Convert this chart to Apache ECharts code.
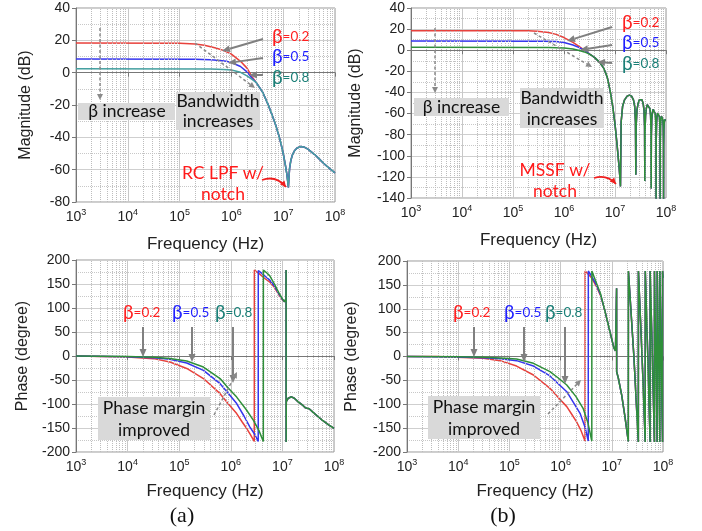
<!DOCTYPE html>
<html><head><meta charset="utf-8">
<script src="https://cdn.jsdelivr.net/npm/echarts@6/dist/echarts.min.js"></script>
<style>html,body{margin:0;padding:0;background:#fff}#c{width:702px;height:531px}</style>
</head><body><div id="c"></div>
<script>
// ---------- DATA (frequency Hz, value) ----------
const magA_red  = [[1e3,18.3],[1e5,18.2],[2e5,17.7],[3e5,17.0],[5e5,15.3],[7e5,13.8],[1e6,11.5],[1.5e6,7.0],[2e6,2.8],[2.5e6,-2.5],[3e6,-6]];
const magA_blue = [[1e3,8.4],[2e5,8.3],[4e5,8.0],[6e5,7.5],[8e5,7.0],[1e6,6.3],[1.5e6,3.8],[2e6,0.5],[2.5e6,-3.5],[3e6,-6]];
const magA_teal = [[1e3,2.4],[4e5,2.3],[7e5,2.0],[1e6,1.6],[1.5e6,0.2],[2e6,-2],[2.5e6,-4.2],[3e6,-6]];
const magA_tail = [[4e6,-12],[5e6,-19],[6e6,-25.5],[7e6,-31.5],[8e6,-37.5],[9e6,-43.5],[1e7,-50],[1.1e7,-57],[1.18e7,-63],[1.23e7,-68],[1.26e7,-71],[1.29e7,-65],[1.33e7,-59],[1.4e7,-54.5],[1.5e7,-51],[1.65e7,-48.3],[1.85e7,-46.6],[2.2e7,-45.7],[2.6e7,-46.2],[3e7,-47.3],[4e7,-50.5],[5e7,-53.5],[6e7,-56],[8e7,-59.5],[1e8,-62]];

const magB_red   = [[1e3,18.5],[2e5,18.4],[3e5,18.0],[5e5,16.8],[7e5,15.0],[1e6,12.0],[1.5e6,7.5],[2e6,3.5],[2.5e6,0.2],[3e6,-2.8]];
const magB_blue  = [[1e3,8.7],[4e5,8.6],[7e5,8.2],[1e6,7.3],[1.5e6,5],[2e6,2.5],[2.5e6,0],[3e6,-2.8]];
const magB_green = [[1e3,2.7],[5e5,2.6],[1e6,2.2],[1.5e6,1.2],[2e6,-0.3],[2.5e6,-1.6],[3e6,-3.2]];
const magB_tail  = [[3.5e6,-5],[4e6,-7],[5e6,-11.5],[6e6,-17],[7e6,-25],[8e6,-38],[9e6,-53],[1e7,-70],[1.1e7,-90],[1.2e7,-110],[1.25e7,-121],[1.28e7,-129],
  [1.32e7,-68],[1.41e7,-53],[1.54e7,-47],[1.73e7,-43.5],[1.92e7,-42.5],[2.11e7,-43.5],[2.3e7,-47],[2.43e7,-53],[2.52e7,-68],[2.56e7,-118],
  [2.6e7,-72],[2.69e7,-57],[2.82e7,-51],[3.01e7,-47],[3.2e7,-46],[3.39e7,-47],[3.58e7,-51],[3.71e7,-57],[3.8e7,-72],[3.84e7,-124],
  [3.88e7,-77],[3.97e7,-62],[4.1e7,-55.5],[4.29e7,-51.5],[4.48e7,-50.5],[4.67e7,-51.5],[4.86e7,-55.5],[4.99e7,-62],[5.08e7,-77],[5.12e7,-131],
  [5.16e7,-81],[5.25e7,-66],[5.38e7,-60],[5.57e7,-56],[5.76e7,-55],[5.95e7,-56],[6.14e7,-60],[6.27e7,-66],[6.36e7,-81],[6.4e7,-145],
  [6.44e7,-85],[6.53e7,-69],[6.66e7,-63],[6.85e7,-59.5],[7.04e7,-58.5],[7.23e7,-59.5],[7.42e7,-63],[7.55e7,-69],[7.64e7,-85],[7.68e7,-150],
  [7.72e7,-88],[7.81e7,-72],[7.94e7,-66],[8.13e7,-62.5],[8.32e7,-61.5],[8.51e7,-62.5],[8.7e7,-66],[8.83e7,-72],[8.92e7,-88],[8.96e7,-150],
  [9.0e7,-91],[9.09e7,-75],[9.22e7,-69],[9.41e7,-66],[9.6e7,-65],[1e8,-66]];

const phA_red   = [[1e3,0],[3e3,-0.8],[1e4,-2],[3.2e4,-5.5],[6.6e4,-12.5],[1.4e5,-26],[2.95e5,-47],[6.2e5,-78.5],[9e5,-100],[1.3e6,-120],[1.65e6,-137],[2.05e6,-151.6],[2.4e6,-164],[2.85e6,-178],
  [2.86e6,179],[3.5e6,172],[4.5e6,162],[5.7e6,154],[7e6,143],[8.5e6,128],[1e7,117],[1.1e7,113]];
const phA_blue  = [[1e3,0],[1e4,-1.5],[3.2e4,-3.5],[6.6e4,-7],[1.4e5,-14.6],[2.95e5,-30],[6.2e5,-57.6],[9e5,-78],[1.3e6,-99],[1.8e6,-125],[2.35e6,-148],[2.9e6,-163],[3.4e6,-178],
  [3.41e6,178],[4e6,172],[5e6,163],[5.7e6,158],[7e6,146],[8.5e6,130],[1e7,118],[1.1e7,113]];
const phA_green = [[1e3,0],[1e4,-1],[3.2e4,-2.5],[6.6e4,-5],[1.4e5,-10.4],[2.95e5,-23],[6.2e5,-47],[9e5,-67],[1.3e6,-85.6],[2e6,-112],[2.75e6,-134],[3.5e6,-155],[4.27e6,-178],
  [4.28e6,179],[5e6,173],[5.7e6,167],[7e6,150],[8.5e6,132],[1e7,119],[1.1e7,113]];
const phA_tail  = [[1.13e7,114],[1.17e7,119],[1.18e7,179],[1.182e7,-179],[1.19e7,-95],[1.3e7,-88],[1.5e7,-85],[1.7e7,-88],[2e7,-95],[2.5e7,-103],[2.8e7,-108],[3e7,-106],[3.3e7,-110],[4e7,-118],[5e7,-127],[6e7,-134],[8e7,-144],[1e8,-151]];

const phB_red   = [[1e3,0],[3.8e3,0],[3.1e4,-3.8],[6.6e4,-8.7],[1.38e5,-20],[2.95e5,-38.7],[6.2e5,-66.7],[9e5,-86],[1.32e6,-105],[1.65e6,-121],[2.04e6,-136.5],[2.5e6,-155],[3.0e6,-177],
  [3.01e6,179],[3.5e6,172],[4e6,165],[5e6,147],[6e6,128]];
const phB_blue  = [[1e3,0],[1e4,-0.8],[3.1e4,-2.5],[6.6e4,-4.5],[1.38e5,-8.7],[2.95e5,-20],[6.2e5,-40.8],[9e5,-57],[1.32e6,-73.7],[1.8e6,-97],[2.4e6,-119],[3e6,-148],[3.47e6,-177],
  [3.48e6,179],[4e6,169],[5e6,150],[6e6,130]];
const phB_green = [[1e3,0],[1e4,-0.5],[3.1e4,-1.5],[6.6e4,-3],[1.38e5,-5.2],[2.95e5,-14.3],[6.2e5,-31.8],[9e5,-45],[1.32e6,-59.7],[2e6,-84],[2.75e6,-108.5],[3.4e6,-138],[4.07e6,-177],
  [4.08e6,179],[5e6,154],[6e6,132]];
const phB_tail  = [[7e6,104],[8e6,79],[9e6,56],[1e7,36],[1.1e7,18],[1.18e7,12],[1.24e7,143],[1.245e7,-32],[1.34e7,-45],[1.56e7,-81],[1.8e7,-125],[2.1e7,-178],
  [2.11e7,179],[2.7e7,0],[3.3e7,-179],[3.31e7,179],[3.9e7,0],[4.5e7,-179],[4.51e7,179],[5.05e7,0],[5.6e7,-179],[5.61e7,179],[6.2e7,0],[6.8e7,-179],
  [6.81e7,179],[7.25e7,0],[7.7e7,-179],[7.71e7,179],[8.2e7,0],[8.7e7,-179],[8.71e7,179],[9.25e7,0],[9.8e7,-179],[9.81e7,179],[1e8,165]];

const magA_ticks = [40,-80,20];   // max, min, interval
const magB_ticks = [40,-140,20];
const ph_ticks   = [200,-200,50];
const betas = ['0.2','0.5','0.8'];

// ---------- STYLE ----------
const RED='#e8413c', BLUE='#3535ee', TEAL='#45a0a0', GREEN='#2f8f3a';
const LRED='#ff1f1f', LBLUE='#1f1fff', LTEAL='#1a7f77';
const SANS='Liberation Sans', CAL='Lato';

const grids = [
  {left:76, top:8,   width:259, height:194},
  {left:411,top:8,   width:255, height:190},
  {left:76, top:260, width:258, height:192},
  {left:407,top:261, width:256, height:191}
].map(g=>Object.assign(g,{show:true,borderColor:'#999',borderWidth:1,containLabel:false}));

function xAx(i,gap){
  return {type:'log',logBase:10,min:1e3,max:1e8,gridIndex:i,
    name:'Frequency (Hz)',nameLocation:'middle',nameGap:gap,
    nameTextStyle:{fontFamily:SANS,fontSize:17,color:'#222'},
    axisLine:{lineStyle:{color:'#777'}},
    axisTick:{lineStyle:{color:'#777'},length:4},
    axisLabel:{margin:6,formatter:v=>'{b|10}{s|'+Math.round(Math.log10(v))+'}',
      rich:{b:{fontFamily:SANS,fontSize:14,color:'#222',lineHeight:18},
            s:{fontFamily:SANS,fontSize:9,color:'#222',verticalAlign:'top',lineHeight:10}}},
    splitLine:{show:true,lineStyle:{color:'#c8c8c8',width:1}}};
}
function yAx(i,t,name,gap){
  return {type:'value',gridIndex:i,max:t[0],min:t[1],interval:t[2],
    name:name,nameLocation:'middle',nameGap:gap,
    nameTextStyle:{fontFamily:SANS,fontSize:16,color:'#222'},
    axisLine:{show:true,lineStyle:{color:'#777'}},
    axisTick:{show:true,lineStyle:{color:'#777'},length:4},
    axisLabel:{fontFamily:SANS,fontSize:14,color:'#222',margin:6},
    splitLine:{show:true,lineStyle:{color:'#cfcfcf',width:1}},
    minorTick:{show:false,splitNumber:2},
    minorSplitLine:{show:true,lineStyle:{color:'#c8c8c8',type:'dotted'}}};
}
const minorFreqs=[];
[1e3,1e4,1e5,1e6,1e7].forEach(d=>{for(let k=2;k<=9;k++)minorFreqs.push(k*d);});

function gridSeries(i){
  return {type:'line',xAxisIndex:i,yAxisIndex:i,data:[],silent:true,z:1,
    markLine:{silent:true,symbol:'none',animation:false,label:{show:false},
      lineStyle:{type:'dotted',color:'#bdbdbd',width:1},emphasis:{disabled:true},
      data:minorFreqs.map(f=>({xAxis:f}))}};
}
function ln(i,data,color,z){
  return {type:'line',xAxisIndex:i,yAxisIndex:i,data:data,symbol:'none',showSymbol:false,
    lineStyle:{color:color,width:1.5},itemStyle:{color:color},z:z,clip:true,animation:false,silent:true};
}

const series=[
  gridSeries(0),gridSeries(1),gridSeries(2),gridSeries(3),
  ln(0,magA_red.concat(magA_tail),RED,3),ln(0,magA_blue.concat(magA_tail),BLUE,4),ln(0,magA_teal.concat(magA_tail),TEAL,5),
  ln(1,magB_red.concat(magB_tail),RED,3),ln(1,magB_blue.concat(magB_tail),BLUE,4),ln(1,magB_green.concat(magB_tail),GREEN,5),
  ln(2,phA_red.concat(phA_tail),RED,3),ln(2,phA_blue.concat(phA_tail),BLUE,4),ln(2,phA_green.concat(phA_tail),GREEN,5),
  ln(3,phB_red.concat(phB_tail),RED,3),ln(3,phB_blue.concat(phB_tail),BLUE,4),ln(3,phB_green.concat(phB_tail),GREEN,5)
];

// ---------- ANNOTATIONS ----------
const G=[];
function arrow(x1,y1,x2,y2,o){
  o=o||{};const c=o.color||'#808080',L=o.head||8,W=o.w||3.5;
  const a=Math.atan2(y2-y1,x2-x1),bx=x2-L*Math.cos(a),by=y2-L*Math.sin(a);
  const px=-Math.sin(a)*W,py=Math.cos(a)*W;
  G.push({type:'line',silent:true,z:100,shape:{x1:x1,y1:y1,x2:bx,y2:by},style:{stroke:c,lineWidth:o.lw||2,lineDash:o.dash?[3,2.5]:null}});
  G.push({type:'polygon',silent:true,z:100,shape:{points:[[x2,y2],[bx+px,by+py],[bx-px,by-py]]},style:{fill:c}});
}
function curveArrow(x1,y1,cx,cy,x2,y2){
  G.push({type:'bezierCurve',silent:true,z:100,shape:{x1:x1,y1:y1,x2:x2,y2:y2,cpx1:cx,cpy1:cy},style:{stroke:'#f01e1e',lineWidth:1.8,fill:null}});
  const a=Math.atan2(y2-cy,x2-cx),L=6,W=3,bx=x2-L*Math.cos(a),by=y2-L*Math.sin(a),px=-Math.sin(a)*W,py=Math.cos(a)*W;
  G.push({type:'polygon',silent:true,z:100,shape:{points:[[x2,y2],[bx+px,by+py],[bx-px,by-py]]},style:{fill:'#f01e1e'}});
}
function txt(x,y,s,o){
  o=o||{};
  G.push({type:'text',silent:true,z:110,x:x,y:y,style:{text:s,fill:o.color||'#111',
    font:(o.size||17.5)+'px '+(o.family||CAL),align:o.align||'center',verticalAlign:'middle',lineHeight:o.lh||21}});
}
function box(x,y,w,h){G.push({type:'rect',silent:true,z:90,shape:{x:x,y:y,width:w,height:h},style:{fill:'#d9d9d9'}});}
function beta(x,y,val,color){
  G.push({type:'text',silent:true,z:110,x:x,y:y,style:{text:'{g|β}{n|='+val+'}',fill:color,align:'left',verticalAlign:'middle',
    rich:{g:{fontFamily:CAL,fontSize:19,fill:color,lineHeight:22},n:{fontFamily:CAL,fontSize:13.5,fill:color,lineHeight:22}}}});
}
const LC=[LRED,LBLUE,LTEAL];

// Panel (a) magnitude
betas.forEach((b,k)=>beta(272,[37,57,78][k],b,LC[k]));
arrow(263,39,222,51);arrow(263,58,228,63);arrow(263,75,249,75);
arrow(100,28,100,100,{dash:true,lw:1.5,color:'#8a8a8a',head:6,w:3});
box(78,103,97,17);txt(127,111.5,'β increase');
arrow(195,43,255,88,{dash:true,lw:1.5,color:'#8a8a8a',head:6,w:3});
box(176,92,84,38);txt(218,101,'Bandwidth');txt(218,121,'increases');
txt(223,173,'RC LPF w/',{color:'#ff1a1a'});txt(223,194,'notch',{color:'#ff1a1a'});
curveArrow(262,180,276,175,286,187);

// Panel (b) magnitude
betas.forEach((b,k)=>beta(622,[23,43,64][k],b,LC[k]));
arrow(612,27,567,41);arrow(612,45,580,50);arrow(612,63,597,62);
arrow(435,28,435,93,{dash:true,lw:1.5,color:'#8a8a8a',head:6,w:3});
box(414,98,95,18);txt(461.5,107.5,'β increase');
arrow(534,33,592,67,{dash:true,lw:1.5,color:'#8a8a8a',head:6,w:3});
box(520,88,84,40);txt(562,98,'Bandwidth');txt(562,119,'increases');
txt(555,170,'MSSF w/',{color:'#ff1a1a'});txt(555,191,'notch',{color:'#ff1a1a'});
curveArrow(594,178,607,174,616,184);

// Panel (a) phase
betas.forEach((b,k)=>beta([123,172,215][k],313,b,LC[k]));
arrow(143,327,143,357);arrow(192,327,192,362);arrow(233,327,233,383);
arrow(214,415,237,372,{dash:true,lw:1.5,color:'#8a8a8a',head:6,w:3});
box(98,397,112,43);txt(154,408.5,'Phase margin');txt(154,430,'improved');

// Panel (b) phase
betas.forEach((b,k)=>beta([453,504,545][k],313,b,LC[k]));
arrow(474,327,474,357);arrow(524,327,524,362);arrow(565,327,565,384);
arrow(548,414,581,380,{dash:true,lw:1.5,color:'#8a8a8a',head:6,w:3});
box(428,396,112,43);txt(484,407.5,'Phase margin');txt(484,429,'improved');

txt(182,516,'(a)',{family:'Liberation Serif',size:22,color:'#111'});
txt(503,516,'(b)',{family:'Liberation Serif',size:22,color:'#111'});

const chart=echarts.init(document.getElementById('c'),null,{renderer:'canvas'});
chart.setOption({
  animation:false,backgroundColor:'#fff',
  grid:grids,
  xAxis:[xAx(0,34),xAx(1,34),xAx(2,31),xAx(3,31)],
  yAxis:[yAx(0,magA_ticks,'Magnitude (dB)',42),yAx(1,magB_ticks,'Magnitude (dB)',47),
         yAx(2,ph_ticks,'Phase (degree)',45),yAx(3,ph_ticks,'Phase (degree)',47)],
  series:series,
  graphic:G
});
</script></body></html>
